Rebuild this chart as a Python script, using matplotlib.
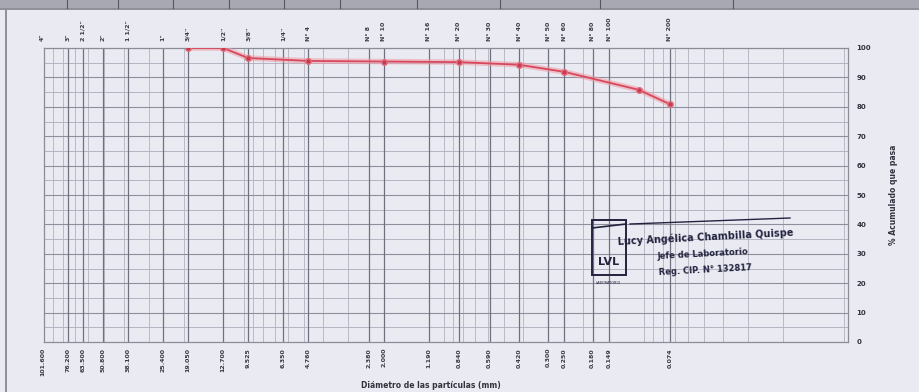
import matplotlib
matplotlib.use("Agg")
import matplotlib.pyplot as plt
from matplotlib.patches import Rectangle
from matplotlib.lines import Line2D

# Sieve series (ASTM) and opening size in mm
sieve_names = ['4"', '3"', '2 1/2"', '2"', '1 1/2"', '1"', '3/4"', '1/2"', '3/8"',
               '1/4"', 'N° 4', 'N° 8', 'N° 10', 'N° 16', 'N° 20', 'N° 30', 'N° 40',
               'N° 50', 'N° 60', 'N° 80', 'N° 100', 'N° 200']
sieve_mm = [101.6, 76.2, 63.5, 50.8, 38.1, 25.4, 19.05, 12.7, 9.525, 6.35, 4.76,
            2.38, 2.0, 1.19, 0.84, 0.59, 0.42, 0.30, 0.25, 0.18, 0.149, 0.074]

# Grain-size curve: particle diameter (mm) vs cumulative % passing
diam_mm = [19.05, 12.7, 9.525, 4.76, 2.0, 0.84, 0.42, 0.25, 0.106, 0.074]
passing = [100.0, 100.0, 96.6, 95.6, 95.4, 95.2, 94.3, 91.9, 85.8, 80.9]

y_ticks = list(range(0, 101, 10))

BG = "#eaebf2"
W, H = 920, 392
fig = plt.figure(figsize=(W / 100, H / 100), dpi=100, facecolor=BG)
ax = fig.add_axes([44 / W, 1 - 342 / H, (848 - 44) / W, (342 - 48) / H])
ax.set_facecolor(BG)
ax.set_xscale("log")
ax.set_xlim(100, 0.0095)
ax.set_ylim(0, 100)

# light log grid
for dec in [0.001, 0.01, 0.1, 1, 10]:
    for m in range(1, 10):
        v = m * dec
        if 0.0095 < v < 100:
            ax.axvline(v, color="#b9bac6", lw=0.7, zorder=1)
# sieve lines
for s in sieve_mm:
    if s <= 100:
        ax.axvline(s, color="#6f717f", lw=0.9, zorder=2)
# horizontal grid
for yv in range(5, 100, 5):
    ax.axhline(yv, color="#8d8f9c" if yv % 10 == 0 else "#b4b5c2",
               lw=0.8 if yv % 10 == 0 else 0.7, zorder=1)

ax.plot(diam_mm, passing, color="#ef9aa6", lw=4.0, alpha=0.55, zorder=3,
        solid_capstyle="round")
ax.plot(diam_mm, passing, color="#d8485c", lw=1.3, marker="o", ms=4,
        mfc="#c83a50", mec="#e07080", zorder=4)

for sp in ax.spines.values():
    sp.set_color("#8a8c98")
    sp.set_linewidth(0.9)

ax.set_xticks([])
ax.minorticks_off()
ax.yaxis.tick_right()
ax.yaxis.set_label_position("right")
ax.set_yticks(y_ticks)
ax.set_yticklabels([str(v) for v in y_ticks], fontsize=5, color="#333340",
                   fontweight="bold")
ax.tick_params(axis="y", length=0, pad=6)
ax.set_ylabel("% Acumulado que pasa", fontsize=5.5, color="#333340",
              fontweight="bold", labelpad=13)

tr = ax.get_xaxis_transform()
for name, s in zip(sieve_names, sieve_mm):
    ax.text(s, 1.025, name, transform=tr, rotation=90, ha="center", va="bottom",
            fontsize=4.5, color="#3a3a48", fontweight="bold", clip_on=False)
    ax.text(s, -0.02, f"{s:.3f}", transform=tr, rotation=90, ha="center",
            va="top", fontsize=4.5, color="#3a3a48", fontweight="bold",
            clip_on=False)

fig.text(431 / W, 1 - 385 / H, "Diámetro de las partículas (mm)", ha="center",
         va="center", fontsize=5.5, color="#333340", fontweight="bold")

# page frame of the report sheet
fig.add_artist(Rectangle((0, 1 - 8 / H), 1, 8 / H, transform=fig.transFigure,
                         facecolor="#a7a8b2", edgecolor="none"))
fig.add_artist(Line2D([0, 1], [1 - 9 / H, 1 - 9 / H], transform=fig.transFigure,
                      color="#7d7e88", lw=1.2))
for xp in [67, 118, 173, 229, 284, 340, 417, 500, 600, 733]:
    fig.add_artist(Line2D([xp / W, xp / W], [1 - 8 / H, 1], transform=fig.transFigure,
                          color="#55565f", lw=0.8))
fig.add_artist(Line2D([6 / W, 6 / W], [0, 1 - 9 / H], transform=fig.transFigure,
                      color="#8e8f99", lw=1.4))

# laboratory stamp
ink = "#23233f"
fig.add_artist(Rectangle((592 / W, 1 - 275 / H), 34 / W, 55 / H,
                         transform=fig.transFigure, fill=False, edgecolor=ink,
                         lw=1.4))
fig.add_artist(Line2D([592 / W, 626 / W], [1 - 228 / H, 1 - 224 / H],
                      transform=fig.transFigure, color=ink, lw=1.2))
fig.text(609 / W, 1 - 262 / H, "LVL", ha="center", va="center", fontsize=8,
         color=ink, fontweight="bold")
fig.text(608 / W, 1 - 283 / H, "LABORATORIO", ha="center", va="center",
         fontsize=2.5, color=ink)
fig.add_artist(Line2D([630 / W, 790 / W], [1 - 224 / H, 1 - 218 / H],
                      transform=fig.transFigure, color=ink, lw=1.0))
fig.text(706 / W, 1 - 237 / H, "Lucy Angélica Chambilla Quispe", ha="center",
         va="center", fontsize=7, color=ink, fontweight="bold", rotation=3)
fig.text(703 / W, 1 - 254 / H, "Jefe de Laboratorio", ha="center", va="center",
         fontsize=6, color=ink, fontweight="bold", rotation=3)
fig.text(705 / W, 1 - 270 / H, "Reg. CIP. N° 132817", ha="center", va="center",
         fontsize=6, color=ink, fontweight="bold", rotation=3)

fig.savefig("out.png", dpi=100, facecolor=BG)
